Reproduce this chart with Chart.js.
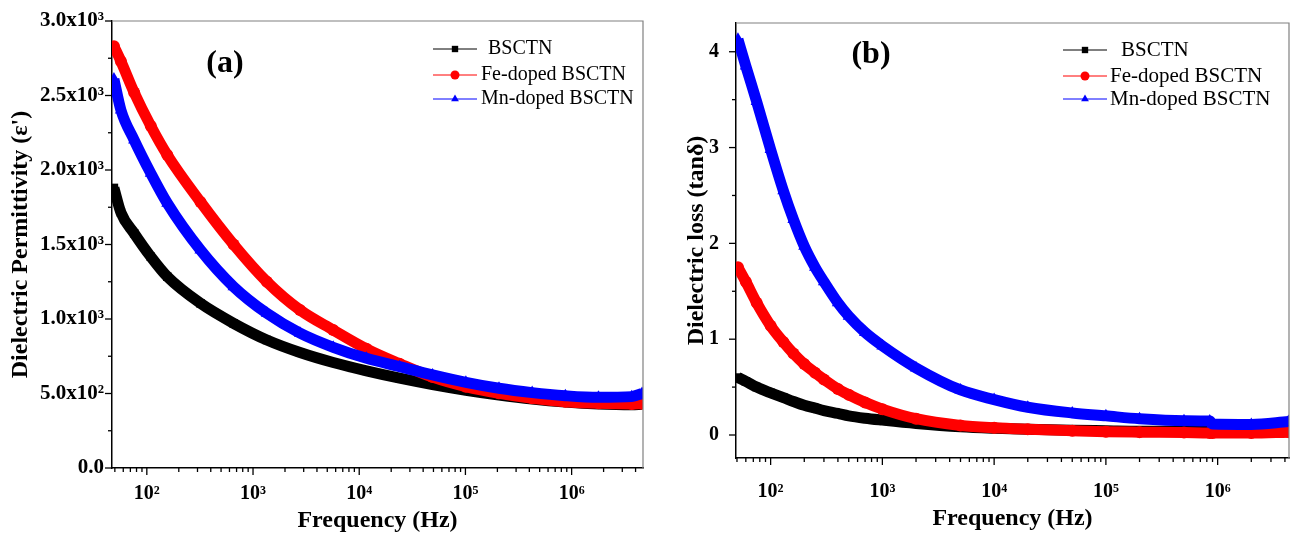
<!DOCTYPE html>
<html>
<head>
<meta charset="utf-8">
<script src="https://cdn.jsdelivr.net/npm/chart.js@4.4.0/dist/chart.umd.min.js"></script>
<style>
  html, body { margin: 0; padding: 0; background: #fff; }
  body { width: 1296px; height: 536px; position: relative; overflow: hidden; }
  .panel { position: absolute; top: 0; height: 536px; }
  #wrapA { left: 0; width: 660px; }
  #wrapB { left: 660px; width: 636px; }
</style>
</head>
<body>
<div class="panel" id="wrapA"><canvas id="chartA" width="660" height="536"></canvas></div>
<div class="panel" id="wrapB"><canvas id="chartB" width="636" height="536"></canvas></div>
<script>
// Series names / colours / markers
const seriesNames = ["BSCTN", "Fe-doped BSCTN", "Mn-doped BSCTN"]
const seriesColors = ["#000000", "#ff0000", "#0000ff"]
const markerStyles = ["rect", "circle", "triangle"]

// (a) dielectric permittivity vs frequency
const freqA = [49, 57, 76, 109, 156, 320, 656, 1350, 2770, 5690, 11700, 24000, 49000, 101000, 207000, 425000, 873000, 1790000, 3680000, 4600000]
const permBSCTN = [1880, 1715, 1575, 1418, 1284, 1105, 971, 859, 775, 708, 652, 603, 560, 522, 490, 463, 443, 430, 425, 428]
const permFe = [2830, 2730, 2520, 2295, 2100, 1786, 1500, 1250, 1060, 926, 800, 700, 610, 546, 501, 468, 445, 434, 430, 432]
const permMn = [2610, 2403, 2201, 1978, 1777, 1463, 1217, 1038, 905, 810, 736, 680, 625, 575, 535, 506, 485, 474, 479, 500]

// (b) dielectric loss vs frequency
const freqB = [51, 60, 75, 100, 130, 160, 200, 250, 300, 400, 500, 700, 1000, 2000, 5000, 10000, 20000, 50000, 100000, 200000, 500000, 850000, 900000, 2000000, 4300000]
const lossBSCTN = [0.6, 0.56, 0.5, 0.44, 0.39, 0.35, 0.31, 0.28, 0.255, 0.225, 0.2, 0.175, 0.155, 0.12, 0.085, 0.07, 0.06, 0.05, 0.045, 0.04, 0.04, 0.04, 0.04, 0.045, 0.07]
const lossFe = [1.75, 1.6, 1.38, 1.14, 0.97, 0.85, 0.74, 0.65, 0.58, 0.48, 0.42, 0.34, 0.27, 0.17, 0.1, 0.075, 0.06, 0.045, 0.035, 0.03, 0.025, 0.02, 0.02, 0.02, 0.03]
const lossMn = [4.13, 3.85, 3.48, 2.98, 2.55, 2.25, 1.97, 1.75, 1.6, 1.38, 1.24, 1.07, 0.93, 0.7, 0.47, 0.37, 0.29, 0.23, 0.2, 0.17, 0.15, 0.145, 0.115, 0.11, 0.14]

// Tick values and labels
const xMajorTicks = [1e2, 1e3, 1e4, 1e5, 1e6]
const xTickLabels = ["10²", "10³", "10⁴", "10⁵", "10⁶"]
const yTicksA = [0, 500, 1000, 1500, 2000, 2500, 3000]
const yTickLabelsA = ["0.0", "5.0x10²", "1.0x10³", "1.5x10³", "2.0x10³", "2.5x10³", "3.0x10³"]
const yMinorA = [250, 750, 1250, 1750, 2250, 2750]
const yTicksB = [0, 1, 2, 3, 4]
const yTickLabelsB = ["0", "1", "2", "3", "4"]
const yMinorB = [0.5, 1.5, 2.5, 3.5]

const SERIF = '"Liberation Serif", "Times New Roman", serif'

// log axis tick marks: every 1..9 x decade
const xAllTicks = []
;[10, ...xMajorTicks].forEach((d) => {
  for (let m = 1; m <= 9; m++) xAllTicks.push(m * d)
})

function buildDatasets(xs, seriesValues) {
  return seriesValues.map((vals, i) => ({
    label: seriesNames[i],
    data: xs.map((x, k) => ({ x: x, y: vals[k] })),
    borderColor: seriesColors[i],
    backgroundColor: seriesColors[i],
    borderWidth: 11,
    pointStyle: markerStyles[i],
    pointRadius: i === 2 ? 7 : 6,
    pointBorderWidth: 0,
    cubicInterpolationMode: "monotone",
    order: 3 - i,
  }))
}

// frame, tick marks, legend and panel letter
function decorPlugin(o) {
  return {
    id: "decor",
    afterDraw(chart) {
      const { ctx, chartArea: a, scales } = chart
      ctx.save()
      ctx.strokeStyle = "#808080"
      ctx.lineWidth = 1.2
      ctx.beginPath()
      ctx.moveTo(a.left, a.top)
      ctx.lineTo(a.right, a.top)
      ctx.lineTo(a.right, a.bottom)
      ctx.stroke()

      ctx.strokeStyle = "#000"
      ctx.lineWidth = 1.3
      scales.x.ticks.forEach((t) => {
        const px = scales.x.getPixelForValue(t.value)
        const len = t.major ? 7 : 4
        ctx.beginPath()
        ctx.moveTo(px, a.bottom)
        ctx.lineTo(px, a.bottom + len)
        ctx.stroke()
      })
      scales.y.ticks.forEach((t) => {
        const py = scales.y.getPixelForValue(t.value)
        const len = t.major ? 7 : 4
        ctx.beginPath()
        ctx.moveTo(a.left, py)
        ctx.lineTo(a.left - len, py)
        ctx.stroke()
      })

      // legend
      ctx.font = o.legendSize + "px " + SERIF
      ctx.textBaseline = "middle"
      ctx.textAlign = "left"
      seriesNames.forEach((name, i) => {
        const y = o.legendRows[i]
        ctx.strokeStyle = seriesColors[i]
        ctx.fillStyle = seriesColors[i]
        ctx.lineWidth = 1
        ctx.beginPath()
        ctx.moveTo(o.legendLine[0], y)
        ctx.lineTo(o.legendLine[1], y)
        ctx.stroke()
        Chart.helpers.drawPoint(ctx, { pointStyle: markerStyles[i], radius: 4.5, borderWidth: 0, rotation: 0 },
          (o.legendLine[0] + o.legendLine[1]) / 2, y)
        ctx.fillStyle = "#000"
        ctx.fillText(name, o.legendText[i], y)
      })

      ctx.font = "bold 32px " + SERIF
      ctx.textAlign = "center"
      ctx.fillStyle = "#000"
      ctx.fillText(o.letter, o.letterPos[0], o.letterPos[1])
      ctx.restore()
    },
  }
}

function makeChart(id, o) {
  return new Chart(document.getElementById(id), {
    type: "line",
    data: { datasets: buildDatasets(o.xs, o.series) },
    options: {
      responsive: false,
      animation: false,
      devicePixelRatio: 1,
      events: [],
      layout: { padding: o.padding },
      plugins: { legend: { display: false }, tooltip: { enabled: false } },
      scales: {
        x: {
          type: "logarithmic",
          min: o.xMin,
          max: o.xMax,
          afterBuildTicks: (s) => {
            s.ticks = xAllTicks
              .filter((v) => v >= o.xMin && v <= o.xMax)
              .map((v) => ({ value: v, major: xMajorTicks.includes(v) }))
          },
          afterFit: (s) => { s.height = o.xAxisHeight },
          // tick marks are drawn by the decor plugin; this only spaces the labels
          grid: { display: true, drawOnChartArea: false, drawTicks: true, tickLength: o.xTickLen, tickColor: "rgba(0,0,0,0)" },
          border: { display: true, color: "#000", width: 1.5 },
          ticks: {
            autoSkip: false,
            maxRotation: 0,
            padding: 3,
            color: "#000",
            font: { family: SERIF, size: 20, weight: "bold" },
            callback: (v) => {
              const k = xMajorTicks.indexOf(v)
              return k >= 0 ? xTickLabels[k] : ""
            },
          },
          title: {
            display: true,
            text: "Frequency (Hz)",
            color: "#000",
            font: { family: SERIF, size: 24, weight: "bold" },
            padding: { top: 0, bottom: o.xTitlePad },
          },
        },
        y: {
          min: o.yMin,
          max: o.yMax,
          afterBuildTicks: (s) => {
            s.ticks = [...o.yMajor, ...o.yMinor]
              .sort((p, q) => p - q)
              .map((v) => ({ value: v, major: o.yMajor.includes(v) }))
          },
          afterFit: (s) => { s.width = o.yAxisWidth },
          grid: { display: true, drawOnChartArea: false, drawTicks: true, tickLength: 7, tickColor: "rgba(0,0,0,0)" },
          border: { display: true, color: "#000", width: 1.5 },
          ticks: {
            autoSkip: false,
            padding: o.yTickPad,
            color: "#000",
            font: { family: SERIF, size: o.yTickSize, weight: "bold" },
            callback: (v) => {
              const k = o.yMajor.indexOf(v)
              return k >= 0 ? o.yLabels[k] : ""
            },
          },
          title: {
            display: true,
            text: o.yTitle,
            color: "#000",
            font: { family: SERIF, size: 24, weight: "bold" },
            padding: { top: o.yTitlePad, bottom: 0 },
          },
        },
      },
    },
    plugins: [decorPlugin(o)],
  })
}

makeChart("chartA", {
  xs: freqA,
  series: [permBSCTN, permFe, permMn],
  xMin: 47, xMax: 4.7e6,
  yMin: 0, yMax: 3000,
  yMajor: yTicksA, yMinor: yMinorA, yLabels: yTickLabelsA,
  yTitle: "Dielectric Permittivity (ε')",
  padding: { top: 21, right: 17, bottom: 0, left: 0 },
  xAxisHeight: 68, yAxisWidth: 112,
  xTickLen: 11, yTickPad: 1, yTickSize: 21,
  xTitlePad: 1, yTitlePad: 6,
  legendSize: 20,
  legendLine: [433, 477], legendText: [488, 481, 481], legendRows: [49, 75, 99],
  letter: "(a)", letterPos: [225, 64],
})

makeChart("chartB", {
  xs: freqB,
  series: [lossBSCTN, lossFe, lossMn],
  xMin: 49, xMax: 4.35e6,
  yMin: -0.24, yMax: 4.3,
  yMajor: yTicksB, yMinor: yMinorB, yLabels: yTickLabelsB,
  yTitle: "Dielectric loss (tanδ)",
  padding: { top: 23, right: 4, bottom: 0, left: 0 },
  xAxisHeight: 78, yAxisWidth: 76,
  xTickLen: 19, yTickPad: 10, yTickSize: 20,
  xTitlePad: 3, yTitlePad: 22,
  legendSize: 21,
  legendLine: [403, 447], legendText: [461, 450, 450], legendRows: [50, 76, 99],
  letter: "(b)", letterPos: [211, 55],
})
</script>
</body>
</html>
